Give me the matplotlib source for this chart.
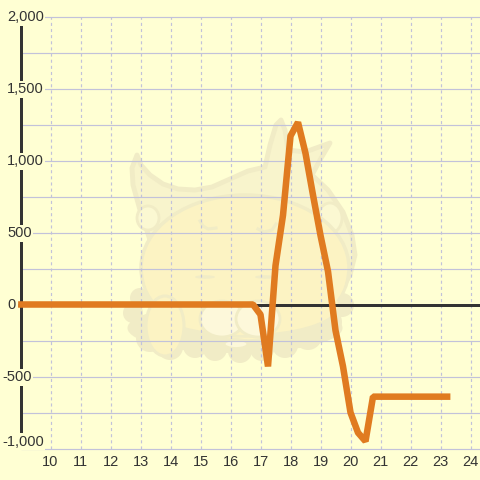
import matplotlib
matplotlib.use("Agg")
import matplotlib.pyplot as plt
from matplotlib.patches import Polygon, Ellipse, Circle
from matplotlib.transforms import Affine2D

hours = [8.92, 16.75, 17, 17.25, 17.5, 17.75, 18, 18.25, 18.5, 18.75, 19, 19.25, 19.5, 19.75, 20, 20.25, 20.5, 20.75, 23.33]
values = [0, 0, -70, -430, 270, 620, 1170, 1265, 1050, 760, 480, 230, -180, -430, -750, -890, -950, -640, -640]
x_ticks = list(range(10, 25))
y_ticks = [2000, 1500, 1000, 500, 0, -500, -1000]
y_labels = ["2,000", "1,500", "1,000", "500", "0", "-500", "-1,000"]
y_grid = list(range(-1000, 2001, 250))

BG = "#FFFFD3"
GRID = "#C2C2DA"
DARK = "#333333"
ORANGE = "#E07B20"
FONT = "Liberation Sans"

fig = plt.figure(figsize=(4.8, 4.8), dpi=100, facecolor=BG)
ax = fig.add_axes([0, 0, 1, 1], facecolor=BG)
ax.set_xlim(10 - 50.5 / 30, 10 + (480 - 50.5) / 30)
ax.set_ylim(-(480 - 304.5) / 0.144, 304.5 / 0.144)
ax.axis("off")


def x_of(p):
    return 10 + (p - 50.5) / 30


# faint watermark, placed in pixel coordinates
px = Affine2D().scale(1 / 480, -1 / 480).translate(0, 1) + ax.transAxes
EDGE = "#F1ECC6"
FILL = "#FCF3C3"
LIGHT = "#FDF8DA"

hair = [(137, 155), (141, 165), (150, 175), (163, 184), (178, 189), (195, 190), (212, 187), (230, 179),
        (248, 171), (265, 167), (270, 145), (276, 125), (281, 120), (285, 130), (288, 150), (305, 152),
        (330, 143), (320, 160), (312, 175), (328, 190), (343, 212), (352, 235), (355, 255), (350, 275),
        (340, 292), (300, 300), (160, 280), (150, 240), (140, 210), (133, 185), (132, 168)]
ax.add_patch(Polygon(hair, closed=True, fc="#F8F4CC", ec=EDGE, lw=3.5, joinstyle="round", transform=px, zorder=1))

ax.add_patch(Ellipse((235, 328), 215, 50, fc=EDGE, ec="none", transform=px, zorder=1))
for cx, cy, r in [(133, 313, 10), (140, 298, 10), (150, 338, 14), (170, 347, 13), (195, 346, 12), (215, 349, 12),
                  (240, 351, 12), (262, 349, 12), (285, 345, 13), (308, 336, 14), (328, 322, 14), (342, 305, 12)]:
    ax.add_patch(Circle((cx, cy), r, fc=EDGE, ec="none", transform=px, zorder=1))

ax.add_patch(Ellipse((148, 218), 22, 24, fc="#FBF8D2", ec=EDGE, lw=2, transform=px, zorder=1))
ax.add_patch(Ellipse((330, 218), 24, 30, fc="#FBF8D2", ec=EDGE, lw=2, transform=px, zorder=1))
ax.add_patch(Ellipse((245, 268), 208, 146, fc=FILL, ec=EDGE, lw=2.5, transform=px, zorder=1.1))
ax.add_patch(Ellipse((245, 305), 190, 62, fc=FILL, ec=EDGE, lw=2.5, transform=px, zorder=1.1))
ax.add_patch(Ellipse((245, 275), 202, 120, fc=FILL, ec="none", transform=px, zorder=1.15))
ax.add_patch(Ellipse((165, 326), 38, 60, fc=FILL, ec=EDGE, lw=2.2, transform=px, zorder=1.2))
ax.add_patch(Ellipse((222, 319), 44, 36, fc=LIGHT, ec=EDGE, lw=2, transform=px, zorder=1.2))
ax.add_patch(Ellipse((258, 319), 44, 36, fc=LIGHT, ec=EDGE, lw=2, transform=px, zorder=1.2))
ax.add_patch(Ellipse((236, 344), 24, 9, fc=LIGHT, ec=EDGE, lw=2, transform=px, zorder=1.2))
ax.add_patch(Ellipse((205, 277), 20, 3.5, fc=EDGE, ec="none", transform=px, zorder=1.2))
ax.add_patch(Ellipse((265, 277), 20, 3.5, fc=EDGE, ec="none", transform=px, zorder=1.2))
ax.plot([200, 203, 208, 216], [221, 226, 229, 228], color=EDGE, lw=2.2, transform=px, zorder=1.2)
ax.plot([258, 264, 272, 276], [229, 232, 230, 224], color=EDGE, lw=2.2, transform=px, zorder=1.2)

# grid
ax.hlines(y_grid, x_of(21), ax.get_xlim()[1], color=GRID, lw=0.85, zorder=2)
ax.vlines(x_ticks, -1000, 2000, color=GRID, lw=0.85, linestyles=(0, (2.6, 2.6)), zorder=2)

# axes
ax.plot([x_of(20.5)] * 2, [-917, 1944], color=DARK, lw=2.16, solid_capstyle="butt", zorder=3)
ax.plot([x_of(18), ax.get_xlim()[1]], [0, 0], color=DARK, lw=2.16, solid_capstyle="butt", zorder=3)

# series
ax.plot(hours, values, color=ORANGE, lw=4.7, solid_capstyle="butt", solid_joinstyle="bevel", zorder=4)

# labels
for v, s in zip(y_ticks, y_labels):
    yy = (-950 if v == -1000 else v) - 4
    left = 2 if s.startswith("-") else 7
    ax.text(x_of(left), yy, s, ha="left", va="center", fontsize=10.5, family=FONT, color=DARK, zorder=5,
            bbox=dict(fc=BG, ec="none", pad=1))
for h in x_ticks:
    ax.text(h, -1093, str(h), ha="center", va="center", fontsize=10.5, family=FONT, color=DARK, zorder=5)

fig.savefig("out.png", dpi=100, facecolor=BG)
